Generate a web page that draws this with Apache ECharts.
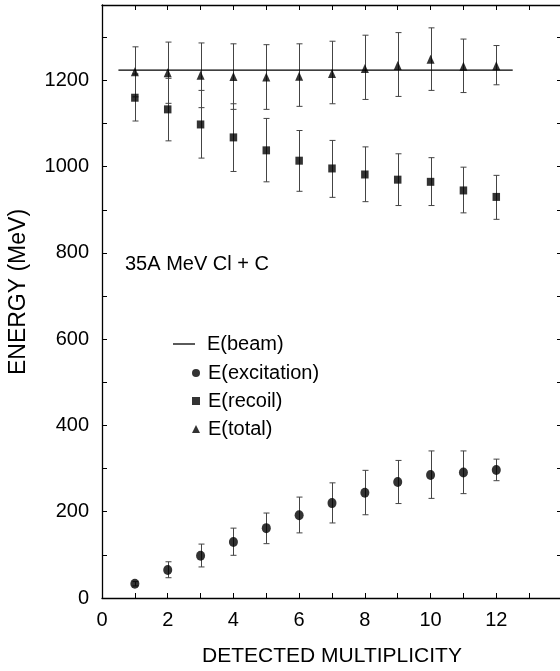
<!DOCTYPE html>
<html>
<head>
<meta charset="utf-8">
<script src="https://cdn.jsdelivr.net/npm/echarts@6/dist/echarts.min.js"></script>
<style>
html,body{margin:0;padding:0;background:#fff;}
#chart{width:560px;height:671px;}
</style>
</head>
<body>
<div id="chart"></div>
<script>
// ---- data ----
const multiplicity = [1,2,3,4,5,6,7,8,9,10,11,12];
const beamX = [0.5, 12.5];
const beamEnergy = 1224;

const excitation     = [33, 65, 98, 130, 162, 192, 220, 244, 269, 285, 291, 297];
const excitationLow  = [28, 47, 72, 99, 126, 151, 174, 193, 219, 231, 242, 272];
const excitationHigh = [38, 84, 125, 162, 197, 234, 267, 296, 319, 341, 341, 322];

const recoil     = [1160, 1133, 1098, 1068, 1038, 1014, 996, 982, 970, 965, 945, 930];
const recoilLow  = [1106, 1060, 1020, 989, 965, 943, 929, 919, 910, 910, 893, 878];
const recoilHigh = [1215, 1205, 1177, 1146, 1112, 1084, 1061, 1046, 1030, 1021, 999, 980];

const total     = [1220, 1218, 1212, 1209, 1208, 1210, 1216, 1228, 1235, 1249, 1233, 1234];
const totalLow  = [1162, 1147, 1137, 1133, 1133, 1140, 1146, 1156, 1163, 1177, 1172, 1190];
const totalHigh = [1278, 1289, 1287, 1285, 1283, 1285, 1291, 1305, 1311, 1322, 1296, 1281];

const xTickLabels = ['0','2','4','6','8','10','12'];
const yTickLabels = ['0','200','400','600','800','1000','1200'];

const FONT = "'Liberation Sans', Arial, Helvetica, sans-serif";

// ---- helpers ----
function pts(xs, ys){ return xs.map((x,i)=>[x, ys[i]]); }
function errData(xs, lo, hi){ return xs.map((x,i)=>[x, lo[i], hi[i]]); }
function errRender(params, api){
  const x = api.value(0);
  const pLo = api.coord([x, api.value(1)]);
  const pHi = api.coord([x, api.value(2)]);
  const cx = Math.round(pLo[0]) + 0.5;
  const st = {stroke:'#444', lineWidth:1};
  return {type:'group', children:[
    {type:'line', shape:{x1:cx, y1:pLo[1], x2:cx, y2:pHi[1]}, style:st},
    {type:'line', shape:{x1:cx-3, y1:pLo[1], x2:cx+3, y2:pLo[1]}, style:st},
    {type:'line', shape:{x1:cx-3, y1:pHi[1], x2:cx+3, y2:pHi[1]}, style:st}
  ]};
}

function axisCommon(){
  return {
    axisLine:{show:true, onZero:false, lineStyle:{color:'#000', width:1.3}},
    axisTick:{show:true, inside:true, length:5, lineStyle:{color:'#000', width:1}},
    splitLine:{show:false}
  };
}

const chart = echarts.init(document.getElementById('chart'), null, {renderer:'canvas'});
chart.setOption({
  animation:false,
  backgroundColor:'#fff',
  grid:{left:102, top:5, width:460, height:593, outerBoundsMode:'none', containLabel:false},
  xAxis:[
    Object.assign({type:'value', min:0, max:14, interval:1, position:'bottom',
      axisLabel:{show:true, margin:12, fontSize:20, fontFamily:FONT, color:'#000',
        formatter:v => xTickLabels.indexOf(String(v)) >= 0 ? String(v) : ''}}, axisCommon()),
    Object.assign({type:'value', min:0, max:14, interval:1, position:'top',
      axisLabel:{show:false}}, axisCommon())
  ],
  yAxis:[
    Object.assign({type:'value', min:0, max:1375, interval:100, position:'left',
      axisLabel:{show:true, margin:13, fontSize:20, fontFamily:FONT, color:'#000', showMaxLabel:false,
        formatter:v => yTickLabels.indexOf(String(v)) >= 0 ? String(v) : ''}}, axisCommon()),
    Object.assign({type:'value', min:0, max:1375, interval:100, position:'right',
      axisLabel:{show:false}}, axisCommon())
  ],
  legend:[
    {data:[{name:'E(beam)', icon:'rect'}], orient:'vertical', left:168, top:329, itemWidth:22, itemHeight:1.3,
      textStyle:{fontSize:20, fontFamily:FONT, color:'#000', padding:[0,0,0,7]},
      selectedMode:false},
    {data:['E(excitation)','E(recoil)','E(total)'], orient:'vertical', left:187, top:358,
      itemWidth:8, itemHeight:8, itemGap:8,
      textStyle:{fontSize:20, fontFamily:FONT, color:'#000', padding:[0,0,0,3]},
      selectedMode:false}
  ],
  graphic:[
    {type:'text', left:125, top:254, style:{text:'35A MeV Cl + C', fontSize:20, fontFamily:FONT, fill:'#000'}},
    {type:'text', x:19, y:292, rotation:Math.PI/2,
      style:{text:'ENERGY (MeV)', fontSize:23, fontFamily:FONT, fill:'#000', align:'center', verticalAlign:'middle'}},
    {type:'text', x:332, y:656,
      style:{text:'DETECTED MULTIPLICITY', fontSize:21, fontFamily:FONT, fill:'#000', align:'center', verticalAlign:'middle'}}
  ],
  series:[
    {name:'E(beam)', type:'line', data:pts(beamX, [beamEnergy, beamEnergy]), symbol:'none', showSymbol:false,
      lineStyle:{color:'#000', width:1.4}, itemStyle:{color:'#000'}, z:3},
    {name:'errExc', type:'custom', renderItem:errRender, data:errData(multiplicity, excitationLow, excitationHigh), z:2},
    {name:'errRec', type:'custom', renderItem:errRender, data:errData(multiplicity, recoilLow, recoilHigh), z:2},
    {name:'errTot', type:'custom', renderItem:errRender, data:errData(multiplicity, totalLow, totalHigh), z:2},
    {name:'E(excitation)', type:'scatter', data:pts(multiplicity, excitation), symbol:'circle', symbolSize:[9,10],
      itemStyle:{color:'#000'}, z:5},
    {name:'E(recoil)', type:'scatter', data:pts(multiplicity, recoil), symbol:'rect', symbolSize:[7.5,8],
      itemStyle:{color:'#000'}, z:5},
    {name:'E(total)', type:'scatter', data:pts(multiplicity, total), symbol:'triangle', symbolSize:[8,9],
      itemStyle:{color:'#000'}, z:5}
  ]
});
</script>
</body>
</html>
